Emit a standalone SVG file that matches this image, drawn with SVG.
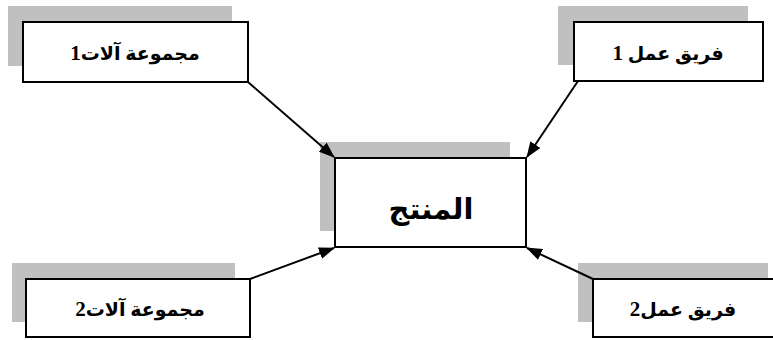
<svg xmlns="http://www.w3.org/2000/svg" width="773" height="340" viewBox="0 0 773 340">
<style>
.sh{fill:#c0c0c0}
.bx{fill:#fff;stroke:#000;stroke-width:2}
.t{font-family:"Liberation Serif","DejaVu Sans",serif;font-weight:bold;font-size:19px;text-anchor:middle;fill:#000}
.d{font-size:21px}
.big{font-size:29px}
.c{stroke:#000;stroke-width:2;fill:none;marker-end:url(#ah)}
</style>
<defs>
<marker id="ah" markerWidth="8" markerHeight="6" refX="7.5" refY="3" orient="auto" markerUnits="strokeWidth">
<path d="M0,0 L8,3 L0,6 Z" fill="#000"/>
</marker>
</defs>
<rect width="773" height="340" fill="#fff"/>
<g id="n-machines1">
<rect class="sh" x="8" y="6" width="224" height="60"/>
<rect class="bx" x="23" y="22" width="225" height="60"/>
<text class="t" x="135" y="60">مجموعة آلات<tspan class="d">1</tspan></text>
</g>
<g id="n-team1">
<rect class="sh" x="558" y="6" width="190" height="59"/>
<rect class="bx" x="574" y="22" width="189" height="59"/>
<text class="t" x="668" y="60">فريق عمل <tspan class="d">1</tspan></text>
</g>
<g id="n-product">
<rect class="sh" x="320" y="142" width="190" height="89"/>
<rect class="bx" x="335" y="158" width="191" height="89"/>
<text class="t big" x="431" y="219">المنتج</text>
</g>
<g id="n-machines2">
<rect class="sh" x="12" y="263" width="223" height="59"/>
<rect class="bx" x="26" y="279" width="224" height="58"/>
<text class="t" x="140" y="316">مجموعة آلات<tspan class="d">2</tspan></text>
</g>
<g id="n-team2">
<rect class="sh" x="578" y="263" width="190" height="59"/>
<rect class="bx" x="593" y="279" width="190" height="58"/>
<text class="t" x="683" y="316">فريق عمل<tspan class="d">2</tspan></text>
</g>
<g id="connectors">
<line class="c" x1="248" y1="82" x2="334" y2="157"/>
<line class="c" x1="578" y1="81" x2="527" y2="157"/>
<line class="c" x1="250" y1="279" x2="334" y2="248"/>
<line class="c" x1="593" y1="279" x2="527" y2="248"/>
</g>
</svg>
